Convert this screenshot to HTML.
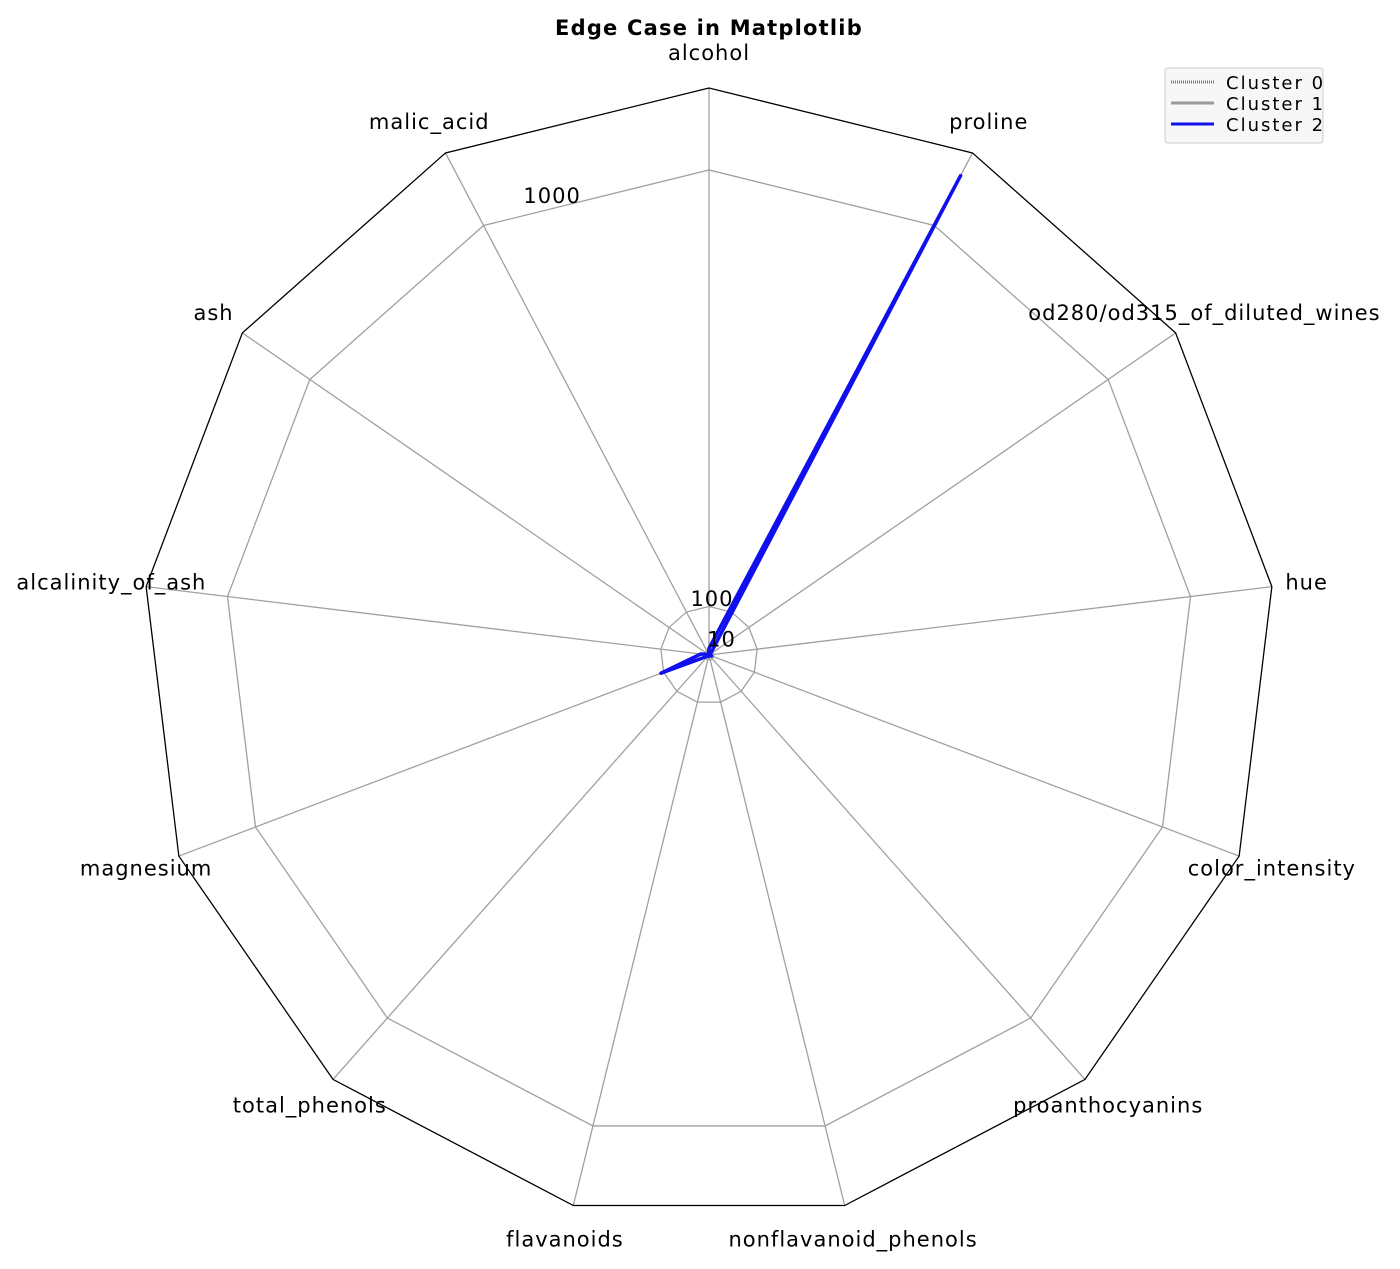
<!DOCTYPE html>
<html><head><meta charset="utf-8"><style>
body{margin:0;background:#fff;}
svg{display:block;font-family:"Liberation Sans","DejaVu Sans",sans-serif;}
</style></head><body>
<svg id="chart" width="1400" height="1269" viewBox="0 0 1400 1269">
<rect width="1400" height="1269" fill="#fff"/>
<text x="709" y="35" text-anchor="middle" font-size="21" letter-spacing="1.2" font-weight="bold" font-family="DejaVu Sans, sans-serif">Edge Case in Matplotlib</text>
<g id="grid"></g><g id="series"></g><g id="labels"></g>
<g>
<rect x="1165" y="68" width="158" height="75" rx="3" fill="#f7f7f7" stroke="#ccc"/>
<line x1="1171" y1="82" x2="1214" y2="82" stroke="#777" stroke-width="3" stroke-dasharray="1,1"/>
<line x1="1171" y1="103" x2="1214" y2="103" stroke="#999" stroke-width="3"/>
<line x1="1171" y1="124" x2="1214" y2="124" stroke="#1010ee" stroke-width="3"/>
<text x="1226" y="89" font-size="18" letter-spacing="2" font-family="DejaVu Sans, sans-serif">Cluster 0</text>
<text x="1226" y="110" font-size="18" letter-spacing="2" font-family="DejaVu Sans, sans-serif">Cluster 1</text>
<text x="1226" y="131" font-size="18" letter-spacing="2" font-family="DejaVu Sans, sans-serif">Cluster 2</text>
</g>
</svg>
<script>
const categories=["alcohol","malic_acid","ash","alcalinity_of_ash","magnesium","total_phenols","flavanoids","nonflavanoid_phenols","proanthocyanins","color_intensity","hue","od280/od315_of_diluted_wines","proline"];
const cluster0=[13.7,2.0,2.46,17.0,106,2.84,2.98,0.29,1.9,5.5,1.06,3.16,1116];
const cluster1=[13.7,2.0,2.46,17.0,106,2.84,2.98,0.29,1.9,5.5,1.06,3.16,1116];
const cluster2=[13.7,2.0,2.46,17.0,106,2.84,2.98,0.29,1.9,5.5,1.06,3.16,1116];
const ticks=[10,100,1000];
const tickLabels=["10","100","1000"];
const rMax=1169;
const cx=709,cy=655,R=567;
const NS="http://www.w3.org/2000/svg";
function ang(i){return (90+i*360/categories.length)*Math.PI/180;}
function rs(v){return v/rMax*R;}
function pt(i,v){const a=ang(i),r=rs(v);return [cx+r*Math.cos(a),cy-r*Math.sin(a)];}
function mk(tag,attrs,parent){const e=document.createElementNS(NS,tag);for(const k in attrs)e.setAttribute(k,attrs[k]);parent.appendChild(e);return e;}
const grid=document.getElementById('grid'),ser=document.getElementById('series'),lab=document.getElementById('labels');
categories.forEach((c,i)=>{const p=pt(i,rMax);
 const l=mk('line',{x1:cx,y1:cy,x2:p[0],y2:p[1],stroke:'#a0a0a0','stroke-width':1.3},grid);
 
 
 const q=[cx+602*Math.cos(ang(i)),cy-602*Math.sin(ang(i))];
 const t=mk('text',{x:q[0],y:q[1]+7,'text-anchor':'middle','font-size':21,'letter-spacing':1,'font-family':'DejaVu Sans, sans-serif'},lab);
 t.textContent=c;
 
 
});
ticks.forEach((v,k)=>{const pts=categories.map((c,i)=>pt(i,v).join(',')).join(' ');
 const g=mk('polygon',{points:pts,fill:'none',stroke:'#a0a0a0','stroke-width':1.3},grid);
 
 
 const a=112.5*Math.PI/180,r=rs(v);
 const t=mk('text',{x:cx+r*Math.cos(a),y:cy-r*Math.sin(a)-4,'font-size':21,'letter-spacing':1,'font-family':'DejaVu Sans, sans-serif'},lab);
 t.textContent=tickLabels[k];
 
 
});
const outer=mk('polygon',{points:categories.map((c,i)=>pt(i,rMax).join(',')).join(' '),fill:'none',stroke:'#000','stroke-width':1.3},grid);


[[cluster0,'#777',2,'1,1'],[cluster1,'#999',3,''],[cluster2,'#1010ee',3.5,'']].forEach((s,k)=>{
 const pts=s[0].map((v,i)=>pt(i,v).join(',')).join(' ');
 const p=mk('polygon',{points:pts,fill:'none',stroke:s[1],'stroke-width':s[2],'stroke-linejoin':'round'},ser);
 if(s[3])p.setAttribute('stroke-dasharray',s[3]);
 
 
});
</script>
</body></html>
